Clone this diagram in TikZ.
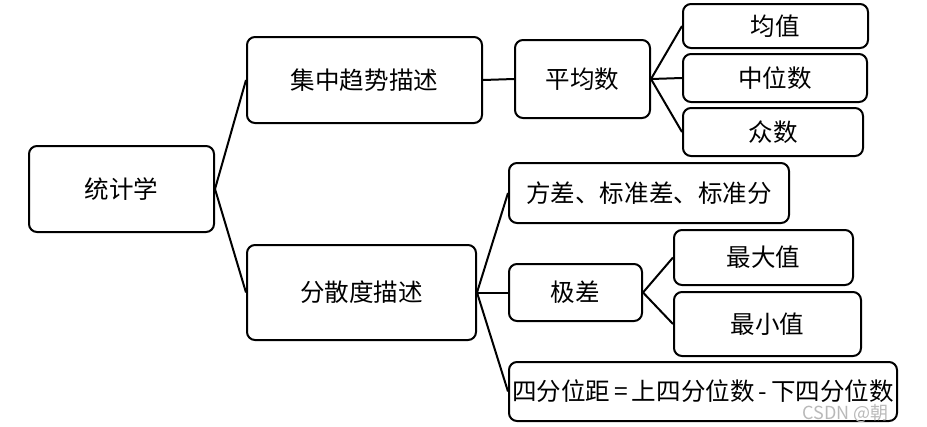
\documentclass[tikz,border=0pt]{standalone}
\usepackage{fontspec}
\setmainfont{Noto Sans CJK SC}
\tikzset{
  box/.style={draw, line width=1.5pt, rounded corners=6pt, inner sep=0pt,
    font=\fontsize{18.4}{22}\selectfont},
  size/.style 2 args={minimum width=#1*0.75pt, minimum height=#2*0.75pt},
  link/.style={line width=1.5pt}
}
\begin{document}
\begin{tikzpicture}[x=0.75pt,y=-0.75pt]
\useasboundingbox (0,0) rectangle (927,426);

% Root and first level
\node[box,size={185}{86}] (stat) at (121.5,189) {统计学};
\node[box,size={235}{86}] (central) at (364.5,80) {集中趋势描述};
\node[box,size={229}{95}] (spread) at (361.5,292.5) {分散度描述};

% Central tendency
\node[box,size={135}{78}] (mean) at (582.5,79) {平均数};
\node[box,size={185}{44}] (avg) at (775.5,26) {均值};
\node[box,size={184}{48}] (median) at (775,78) {中位数};
\node[box,size={180}{48}] (mode) at (773,132) {众数};

% Dispersion
\node[box,size={280}{60}] (var) at (649,193) {方差、标准差、标准分};
\node[box,size={133}{57}] (range) at (575.5,292.5) {极差};
\node[box,size={179}{55}] (max) at (763.5,257.5) {最大值};
\node[box,size={187}{64}] (min) at (767.5,324) {最小值};
\node[box,size={388}{59}] (iqr) at (703,391.5) {四分位距\,=\,上四分位数\,-\,下四分位数};

% Links
\draw[link] (stat.east) -- (central.west);
\draw[link] (stat.east) -- (spread.west);
\draw[link] (central.east) -- (mean.west);
\draw[link] (mean.east) -- (avg.west);
\draw[link] (mean.east) -- (median.west);
\draw[link] (mean.east) -- (mode.west);
\draw[link] (spread.east) -- (var.west);
\draw[link] (spread.east) -- (range.west);
\draw[link] (spread.east) -- (iqr.west);
\draw[link] (range.east) -- (max.west);
\draw[link] (range.east) -- (min.west);

% Watermark
\node[anchor=west,text=gray!55,font=\fontsize{13.5}{16}\selectfont] (mark) at (798,413) {CSDN @朝};
\end{tikzpicture}
\end{document}
